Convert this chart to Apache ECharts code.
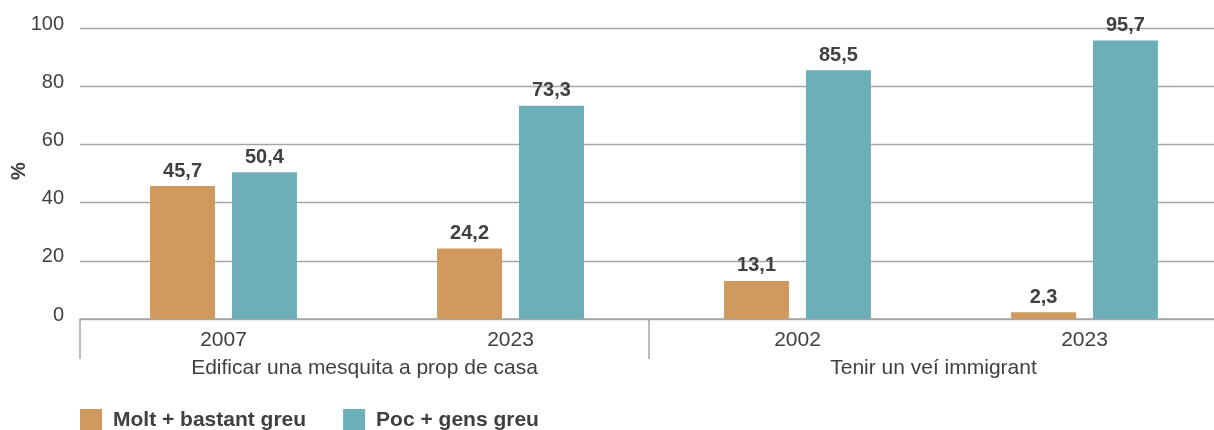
<!DOCTYPE html>
<html>
<head>
<meta charset="utf-8">
<script src="https://cdn.jsdelivr.net/npm/echarts@6/dist/echarts.min.js"></script>
<style>
html,body{margin:0;padding:0;background:#fff;}
#chart{width:1214px;height:430px;}
</style>
</head>
<body>
<div id="chart"></div>
<script>
var years = ['2007', '2023', '2002', '2023'];
var groups = ['Edificar una mesquita a prop de casa', 'Tenir un veí immigrant'];
var seriesNames = ['Molt + bastant greu', 'Poc + gens greu'];
var molt = [45.7, 24.2, 13.1, 2.3];
var poc = [50.4, 73.3, 85.5, 95.7];
var yTicks = [0, 20, 40, 60, 80, 100];
var yName = '%';

var FONT = '"Liberation Sans", Arial, sans-serif';
var TXT = '#404040';
var GRID = '#a6a6a6';

function fmt(v) { return String(v.toFixed(1)).replace('.', ','); }

var chart = echarts.init(document.getElementById('chart'), null, {renderer: 'canvas'});
chart.setOption({
  animation: false,
  textStyle: {fontFamily: FONT},
  color: ['#D09A5F', '#6CAFB8'],
  grid: [
    {left: 80, top: 28, width: 1148, height: 291, outerBoundsMode: 'none', containLabel: false},
    {left: 80, top: 28, width: 1138, height: 291, outerBoundsMode: 'none', containLabel: false}
  ],
  graphic: [
    {
      type: 'text', x: 19, y: 171, rotation: Math.PI / 2,
      style: {text: yName, font: 'bold 20px "Liberation Sans", Arial, sans-serif', fill: TXT,
        align: 'center', verticalAlign: 'middle'}
    }
  ],
  legend: {
    left: 80, top: 409, padding: 0,
    itemWidth: 22, itemHeight: 22, itemGap: 37,
    icon: 'rect',
    data: seriesNames,
    textStyle: {fontFamily: FONT, fontSize: 21, fontWeight: 'bold', color: TXT, padding: [0, 0, 0, 6]}
  },
  xAxis: [
    {
      type: 'category', gridIndex: 0, data: years,
      axisLine: {show: true, lineStyle: {color: GRID, width: 1.5}},
      axisTick: {show: false},
      axisLabel: {fontFamily: FONT, fontSize: 21, color: TXT, margin: 11, interval: 0}
    },
    {
      type: 'category', gridIndex: 1, data: groups, position: 'bottom',
      axisLine: {show: false},
      axisTick: {show: true, length: 40, interval: 0, lineStyle: {color: GRID, width: 1.5}},
      axisLabel: {fontFamily: FONT, fontSize: 21, color: TXT, margin: 39, interval: 0}
    }
  ],
  yAxis: [
    {
      type: 'value', gridIndex: 0, min: yTicks[0], max: yTicks[yTicks.length - 1], interval: 20,
      axisLine: {show: false}, axisTick: {show: false},
      axisLabel: {fontFamily: FONT, fontSize: 20, color: TXT, margin: 16, verticalAlign: 'bottom', lineHeight: 8},
      splitLine: {show: true, lineStyle: {color: GRID, width: 1.3}}
    },
    {
      type: 'value', gridIndex: 1, min: 0, max: 100, show: false, splitLine: {show: false}
    }
  ],
  series: [
    {
      name: seriesNames[0], type: 'bar', xAxisIndex: 0, yAxisIndex: 0,
      data: molt, barWidth: 65, barGap: '26%',
      label: {show: true, position: 'top', distance: 5, fontFamily: FONT, fontSize: 20, fontWeight: 'bold', color: TXT,
        formatter: function (p) { return fmt(p.value); }}
    },
    {
      name: seriesNames[1], type: 'bar', xAxisIndex: 0, yAxisIndex: 0,
      data: poc, barWidth: 65, barGap: '26%',
      label: {show: true, position: 'top', distance: 5, fontFamily: FONT, fontSize: 20, fontWeight: 'bold', color: TXT,
        formatter: function (p) { return fmt(p.value); }}
    }
  ]
});
</script>
</body>
</html>
